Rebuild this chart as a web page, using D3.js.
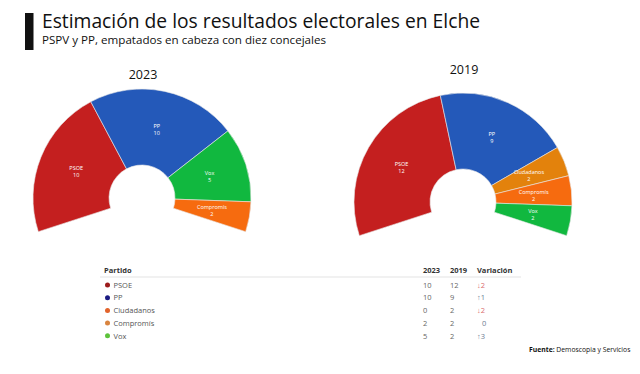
<!DOCTYPE html>
<html>
<head>
<meta charset="utf-8">
<script src="https://cdn.jsdelivr.net/npm/d3@7"></script>
<style>
  body { margin: 0; background: #fff; }
  text { font-family: "Open Sans", sans-serif; }
</style>
</head>
<body>
<div id="canvas"></div>
<script>
// data
const parties = ["PSOE", "PP", "Ciudadanos", "Compromís", "Vox"];
const seats2023 = [10, 10, 0, 2, 5];
const seats2019 = [12, 9, 2, 2, 2];
const order2023 = ["PSOE", "PP", "Vox", "Compromís"];
const order2019 = ["PSOE", "PP", "Ciudadanos", "Compromís", "Vox"];
const sliceColors = ["#c41f1f", "#2459b9", "#e3820c", "#f66b0f", "#11b83f"];
const dotColors = ["#9c1c1c", "#1b1b82", "#e2632b", "#d9843f", "#5dc33b"];
const years = ["2023", "2019"];

var width = 640, height = 374;

var svg = d3.select("#canvas")
  .append("svg")
  .attr("width", width)
  .attr("height", height);

// header
svg.append("rect")
  .attr("x", 25).attr("y", 13)
  .attr("width", 8.5).attr("height", 37)
  .attr("fill", "#111");

svg.append("text")
  .attr("x", 42).attr("y", 28)
  .attr("font-size", 20)
  .attr("textLength", 438)
  .attr("lengthAdjust", "spacingAndGlyphs")
  .attr("fill", "#111")
  .text("Estimación de los resultados electorales en Elche");

svg.append("text")
  .attr("x", 42).attr("y", 43.5)
  .attr("font-size", 10.5)
  .attr("textLength", 284)
  .attr("lengthAdjust", "spacingAndGlyphs")
  .attr("fill", "#111")
  .text("PSPV y PP, empatados en cabeza con diez concejales");

// hemicycles
var pie = d3.pie()
  .sort(null)
  .startAngle(-108 * Math.PI / 180)
  .endAngle(108 * Math.PI / 180)
  .value(d => d.seats);

var arc = d3.arc().innerRadius(33).outerRadius(109);

function drawChart(cx, cy, titleY, year, order, seats) {
  var data = order.map(name => {
    var i = parties.indexOf(name);
    return {name: name, seats: seats[i], color: sliceColors[i]};
  });

  var g = svg.append("g")
    .attr("transform", `translate(${cx},${cy})`);

  g.append("text")
    .attr("x", 1).attr("y", titleY - cy)
    .attr("text-anchor", "middle")
    .attr("font-size", 12.5)
    .attr("fill", "#111")
    .text(year);

  var slices = g.selectAll("g.slice")
    .data(pie(data))
    .enter()
    .append("g")
    .attr("class", "slice");

  slices.append("path")
    .attr("d", arc)
    .attr("fill", d => d.data.color)
    .attr("stroke", "#e8e8e8")
    .attr("stroke-width", 0.6);

  var labels = slices.append("text")
    .attr("transform", d => `translate(${arc.centroid(d)})`)
    .attr("text-anchor", "middle")
    .attr("font-family", "Roboto, sans-serif")
    .attr("font-size", 5.5)
    .attr("fill", "#fff");

  labels.append("tspan")
    .attr("x", 0).attr("y", -1)
    .text(d => d.data.name);

  labels.append("tspan")
    .attr("x", 0).attr("y", 6)
    .text(d => d.data.seats);
}

drawChart(142, 198, 79, years[0], order2023, seats2023);
drawChart(463, 202, 73.5, years[1], order2019, seats2019);

// table
var rowY = d3.scaleLinear().domain([0, 1]).range([285, 297.7]);

svg.append("text")
  .attr("x", 104).attr("y", 273)
  .attr("font-size", 7.5).attr("font-weight", "bold").attr("fill", "#333")
  .text("Partido");

[["2023", 423], ["2019", 450], ["Variación", 477]].forEach(h => {
  svg.append("text")
    .attr("x", h[1]).attr("y", 273)
    .attr("font-size", 7.5).attr("font-weight", "bold").attr("fill", "#333")
    .text(h[0]);
});

svg.append("line")
  .attr("x1", 100).attr("x2", 521)
  .attr("y1", 277).attr("y2", 277)
  .attr("stroke", "#ececec").attr("stroke-width", 1.5);

var rows = svg.selectAll("g.row")
  .data(parties)
  .enter()
  .append("g")
  .attr("class", "row")
  .attr("transform", (d, i) => `translate(0,${rowY(i)})`);

rows.append("circle")
  .attr("cx", 107.5).attr("cy", 0).attr("r", 2.5)
  .attr("fill", (d, i) => dotColors[i]);

rows.append("text")
  .attr("x", 113.5).attr("y", 2.7)
  .attr("font-size", 7.5).attr("fill", "#555")
  .text(d => d);

rows.append("text")
  .attr("x", 423).attr("y", 2.7)
  .attr("font-size", 7.5).attr("fill", "#666")
  .text((d, i) => seats2023[i]);

rows.append("text")
  .attr("x", 450).attr("y", 2.7)
  .attr("font-size", 7.5).attr("fill", "#666")
  .text((d, i) => seats2019[i]);

rows.append("text")
  .attr("x", (d, i) => seats2023[i] - seats2019[i] === 0 ? 482 : 477)
  .attr("y", 2.7)
  .attr("font-size", 7.5)
  .attr("fill", (d, i) => seats2023[i] - seats2019[i] < 0 ? "#d96a6a" : "#6d7d92")
  .text((d, i) => {
    var v = seats2023[i] - seats2019[i];
    if (v < 0) return "\u2193" + Math.abs(v);
    if (v > 0) return "\u2191" + v;
    return "0";
  });

// source
var src = svg.append("text")
  .attr("x", 529).attr("y", 352)
  .attr("font-size", 6.8).attr("fill", "#111");
src.append("tspan").attr("font-weight", "bold").text("Fuente:");
src.append("tspan").text(" Demoscopia y Servicios");
</script>
</body>
</html>
